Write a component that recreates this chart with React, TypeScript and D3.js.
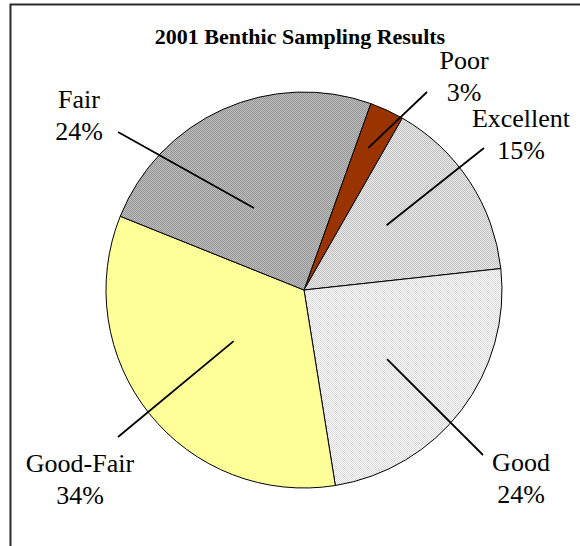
import React from 'react';
import * as d3 from 'd3';

// ---- data ----
const categories = ['Poor', 'Excellent', 'Good', 'Good-Fair', 'Fair'];
const values = [2.8, 15.0, 24.2, 33.6, 24.4];
const title = '2001 Benthic Sampling Results';

// ---- styles / layout ----
const fills = ['#993300', 'url(#patExcellent)', 'url(#patGood)', '#ffff99', 'url(#patFair)'];
const W = 580, H = 546;
const cx = 304, cy = 290, R = 198;
const startDeg = 19.7;
// label center x, first-line baseline
const labelPos: [number, number][] = [[464, 69], [521, 127], [521, 471], [80, 472], [79, 108]];
// leader outer end
const leaderOuter: [number, number][] = [[427, 92], [484, 148], [483, 455], [118, 437], [118, 132]];
// leader inner end: [distance from center, angle offset from slice middle in degrees]
const leaderInner: [number, number][] = [[156, -0.4], [105, -4.9], [108, 2.4], [87, 2.6], [96, -7.2]];

const font = "'Liberation Serif', 'Times New Roman', Times, 'DejaVu Serif', serif";

export default function App() {
  const rad = (d: number) => (d * Math.PI) / 180;
  const total = d3.sum(values);
  const pie = d3.pie<number>().sort(null).value((d) => d)
    .startAngle(rad(startDeg)).endAngle(rad(startDeg + 360));
  const arcs = pie(values);
  const arc = d3.arc<d3.PieArcDatum<number>>().innerRadius(0).outerRadius(R);

  const pattern = (id: string, a: string, b: string) => (
    <pattern id={id} width={2} height={2} patternUnits="userSpaceOnUse">
      <rect x={0} y={0} width={2} height={2} fill={b} shapeRendering="crispEdges" />
      <rect x={0} y={0} width={1} height={1} fill={a} shapeRendering="crispEdges" />
      <rect x={1} y={1} width={1} height={1} fill={a} shapeRendering="crispEdges" />
    </pattern>
  );

  return (
    <svg width={W} height={H} style={{ position: 'fixed', left: 0, top: 0, background: '#fff' }}>
      <defs>
        {pattern('patFair', '#959595', '#bebebe')}
        {pattern('patExcellent', '#c2c2c2', '#e8e8e8')}
        {pattern('patGood', '#dcdcdc', '#f7f7f7')}
      </defs>
      <rect x={0} y={0} width={W} height={H} fill="#fff" />
      <path d={`M10.5,${H} V4.5 H${W}`} fill="none" stroke="#2a2a2a" strokeWidth={2} />
      <text x={300} y={44} textAnchor="middle" style={{ fontFamily: font, fontWeight: 'bold', fontSize: '22px' }}>
        {title}
      </text>
      <g transform={`translate(${cx},${cy})`}>
        {arcs.map((a, i) => (
          <path key={i} d={arc(a) || ''} fill={fills[i]} stroke="#000" strokeWidth={1} />
        ))}
      </g>
      {arcs.map((a, i) => {
        const mid = (a.startAngle + a.endAngle) / 2 + rad(leaderInner[i][1]);
        const r = leaderInner[i][0];
        const ix = cx + r * Math.sin(mid);
        const iy = cy - r * Math.cos(mid);
        const [ox, oy] = leaderOuter[i];
        return <line key={'l' + i} x1={ox} y1={oy} x2={ix} y2={iy} stroke="#000" strokeWidth={1.8} />;
      })}
      {arcs.map((a, i) => {
        const [lx, ly] = labelPos[i];
        const pct = Math.round((values[i] / total) * 100);
        return (
          <text key={'t' + i} x={lx} y={ly} textAnchor="middle" fill="#000" style={{ fontFamily: font, fontSize: '26px' }}>
            <tspan x={lx} y={ly}>{categories[i]}</tspan>
            <tspan x={lx} y={ly + 31.5}>{pct}%</tspan>
          </text>
        );
      })}
    </svg>
  );
}
